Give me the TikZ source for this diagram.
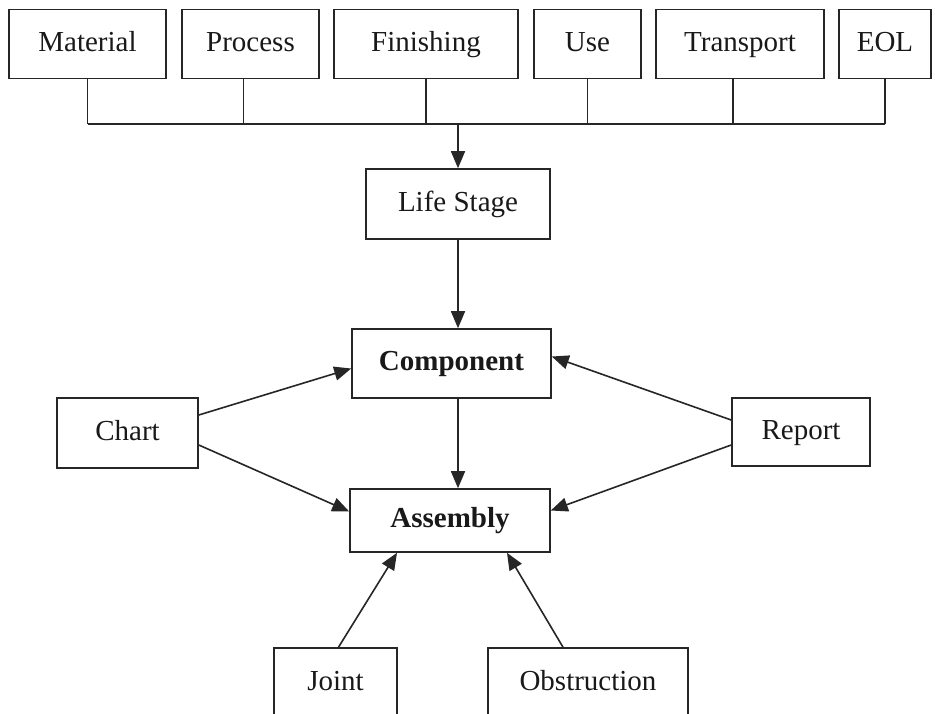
\documentclass[tikz,border=0pt]{standalone}
\usepackage{fontspec}
\setmainfont{Liberation Serif}
\usetikzlibrary{arrows.meta,calc}

\begin{document}
\begin{tikzpicture}[x=1pt,y=-1pt,
  box/.style={draw=black!85, line width=1.6pt, inner sep=0pt,
              text height=20pt, text depth=6pt,
              font=\fontsize{29}{34}\selectfont, text=black!90},
  keybox/.style={box, font=\fontsize{29}{34}\selectfont\bfseries},
  link/.style={draw=black!85, line width=1.6pt},
  flow/.style={link, -{Triangle[length=17pt,width=14pt]}}]

\clip (0,0) rectangle (935,713);
\fill[white] (0,0) rectangle (935,713);

% life-stage categories
\node[box, minimum width=157pt, minimum height=69pt] (mat)  at (87.5,44) {Material};
\node[box, minimum width=137pt, minimum height=69pt] (proc) at (250.5,44) {Process};
\node[box, minimum width=184pt, minimum height=69pt] (fin)  at (426,44) {Finishing};
\node[box, minimum width=107pt, minimum height=69pt] (use)  at (587.5,44) {Use};
\node[box, minimum width=168pt, minimum height=69pt] (tra)  at (740,44) {Transport};
\node[box, minimum width=92pt,  minimum height=69pt] (eol)  at (885,44) {EOL};

% central chain
\node[box, minimum width=184pt, minimum height=70pt] (life) at (458,204) {Life Stage};
\node[keybox, minimum width=199pt, minimum height=69pt] (comp) at (451.5,363.5) {Component};
\node[keybox, minimum width=200pt, minimum height=63pt] (asm)  at (450,520.5) {Assembly};

% side and bottom inputs
\node[box, minimum width=141pt, minimum height=70pt] (chart)  at (127.5,433) {Chart};
\node[box, minimum width=138pt, minimum height=68pt] (report) at (801,432) {Report};
\node[box, minimum width=123pt, minimum height=70pt] (joint)  at (335.5,683) {Joint};
\node[box, minimum width=200pt, minimum height=70pt] (obst)   at (588,683) {Obstruction};

% bus collecting the categories
\coordinate (bus) at (458,124);
\draw[link] (mat.south) -- (mat.south |- bus);
\draw[link] ([xshift=-7pt]proc.south) -- ([xshift=-7pt]proc.south |- bus);
\draw[link] (fin.south) -- (fin.south |- bus);
\draw[link] (use.south) -- (use.south |- bus);
\draw[link] ([xshift=-7pt]tra.south) -- ([xshift=-7pt]tra.south |- bus);
\draw[link] (eol.south) -- (eol.south |- bus);
\draw[link] (mat.south |- bus) -- (eol.south |- bus);
\draw[flow] (bus) -- (life.north);

% main flow
\draw[flow] (life.south) -- (life.south |- comp.north);
\draw[flow] (life.south |- comp.south) -- (life.south |- asm.north);

% side arrows
\draw[flow] ($(chart.east)+(0,-18)$) -- ($(comp.west)+(0,5)$);
\draw[flow] ($(chart.east)+(0,12)$) -- ($(asm.west)+(0,-9)$);
\draw[flow] ($(report.west)+(0,-12)$) -- ($(comp.east)+(0,-7)$);
\draw[flow] ($(report.west)+(0,13)$) -- ($(asm.east)+(0,-10)$);

% bottom arrows
\draw[flow] ($(joint.north)+(3,0)$) -- ($(asm.south)+(-53,0)$);
\draw[flow] ($(obst.north)+(-25,0)$) -- ($(asm.south)+(57,0)$);
\end{tikzpicture}
\end{document}
